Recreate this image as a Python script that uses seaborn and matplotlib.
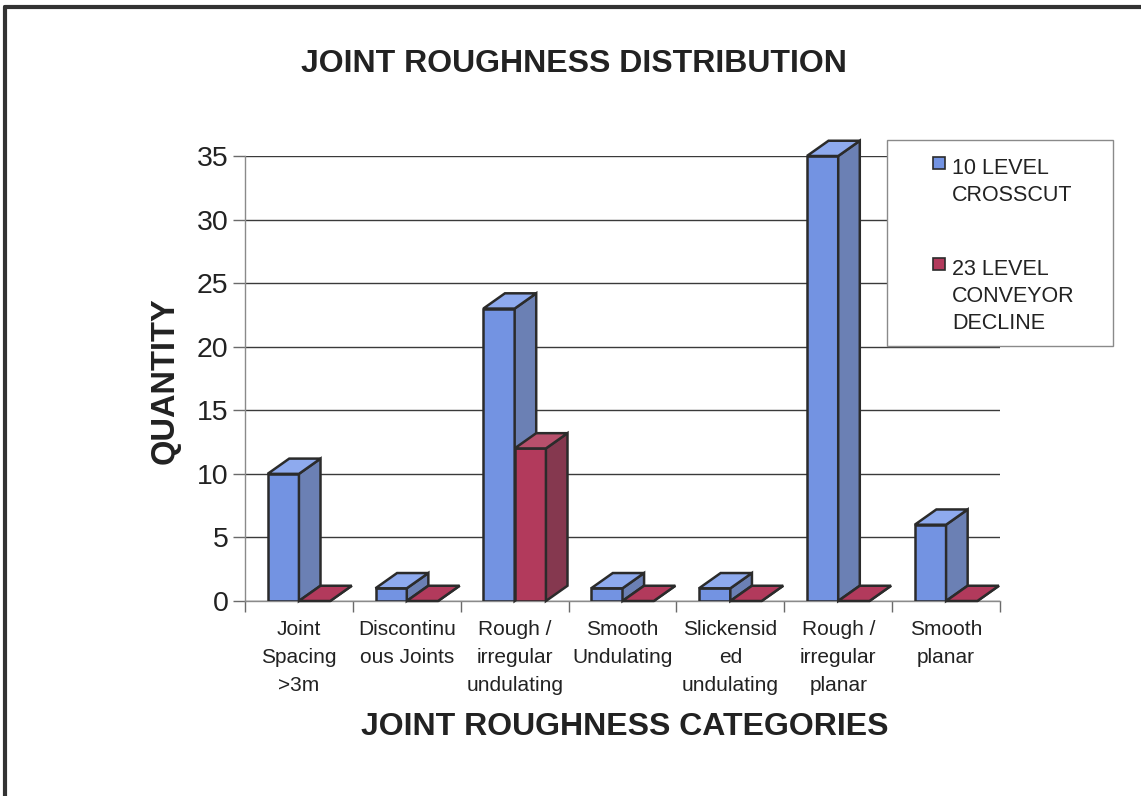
import numpy as np
import pandas as pd
import matplotlib
matplotlib.use("Agg")
import matplotlib.pyplot as plt
import seaborn as sns
from matplotlib.patches import Polygon, Rectangle
from matplotlib.lines import Line2D

# ---- data ----
categories = [
    "Joint\nSpacing\n>3m",
    "Discontinu\nous Joints",
    "Rough /\nirregular\nundulating",
    "Smooth\nUndulating",
    "Slickensid\ned\nundulating",
    "Rough /\nirregular\nplanar",
    "Smooth\nplanar",
]
crosscut_10 = [10, 1, 23, 1, 1, 35, 6]
conveyor_23 = [0, 0, 12, 0, 0, 0, 0]
series_names = ["10 LEVEL\nCROSSCUT", "23 LEVEL\nCONVEYOR\nDECLINE"]
y_ticks = [0, 5, 10, 15, 20, 25, 30, 35]

df = pd.DataFrame({
    "category": categories * 2,
    "series": [series_names[0]] * len(categories) + [series_names[1]] * len(categories),
    "quantity": crosscut_10 + conveyor_23,
})

# face colours: front, side, top
face_colors = {
    series_names[0]: ("#7393e2", "#6b80b4", "#8eaaee"),
    series_names[1]: ("#b23a5c", "#85384f", "#b8506c"),
}
edge_col = "#2b2b2b"

sns.set_theme(style="white")
plt.rcParams["font.family"] = ["Liberation Sans", "DejaVu Sans"]

fig = plt.figure(figsize=(11.41, 7.96), dpi=100)
fig.patch.set_facecolor("white")
W, H = 1141, 796
ax = fig.add_axes([245 / W, 1 - 601 / H, (1000 - 245) / W, (601 - 156) / H])

sns.barplot(
    data=df, x="category", y="quantity", hue="series",
    palette=[face_colors[s][0] for s in series_names],
    width=0.58, saturation=1, ax=ax, legend=False, zorder=3,
)

ax.set_ylim(0, 35)
ax.set_xlim(-0.5, len(categories) - 0.5)

# depth of the pseudo-3D boxes, in data units
dx, dy = 0.2, 1.2

bars = [p for p in ax.patches if isinstance(p, Rectangle)]
n = len(categories)
for i, bar in enumerate(bars[: 2 * n]):
    s = series_names[i // n]
    front, side, top = face_colors[s]
    x0 = bar.get_x()
    w = bar.get_width()
    h = bar.get_height()
    bar.set_edgecolor(edge_col)
    bar.set_linewidth(1.8)
    z = 3 + (i // n) * 0.5
    bar.set_zorder(z)
    side_poly = Polygon(
        [(x0 + w, 0), (x0 + w + dx, dy), (x0 + w + dx, h + dy), (x0 + w, h)],
        closed=True, facecolor=side, edgecolor=edge_col, linewidth=1.8,
        zorder=z + 0.1, clip_on=False,
    )
    top_poly = Polygon(
        [(x0, h), (x0 + dx, h + dy), (x0 + w + dx, h + dy), (x0 + w, h)],
        closed=True, facecolor=top if h > 0 else front, edgecolor=edge_col,
        linewidth=1.8, zorder=z + 0.2, clip_on=False,
    )
    ax.add_patch(side_poly)
    ax.add_patch(top_poly)

# gridlines and axes styling
ax.set_yticks(y_ticks)
ax.yaxis.grid(True, color="#3a3a3a", linewidth=1.0, zorder=0)
ax.xaxis.grid(False)
ax.set_axisbelow(True)
for side_name in ["top", "right"]:
    ax.spines[side_name].set_visible(False)
ax.spines["left"].set_color("#8a8a8a")
ax.spines["bottom"].set_color("#8a8a8a")
ax.spines["left"].set_linewidth(1.0)
ax.spines["bottom"].set_linewidth(1.0)

ax.tick_params(axis="y", which="both", left=True, length=9, width=1.0,
               color="#6a6a6a", labelsize=20.5, labelcolor="#222222", pad=3)
ax.set_yticklabels([str(t) for t in y_ticks])

# category tick labels at centres, tick marks at category boundaries
ax.set_xticks(range(n))
ax.set_xticklabels(categories, fontsize=15, color="#222222", linespacing=1.58,
                   va="top")
ax.tick_params(axis="x", which="major", bottom=False, pad=8)
ax.set_xticks(np.arange(-0.5, n, 1.0), minor=True)
ax.tick_params(axis="x", which="minor", bottom=True, length=8, width=1.0,
               color="#6a6a6a")

ax.set_xlabel("JOINT ROUGHNESS CATEGORIES", fontsize=23, fontweight="bold",
              color="#222222")
ax.set_ylabel("QUANTITY", fontsize=23.5, fontweight="bold", color="#222222")
ax.xaxis.set_label_coords((625 - 245) / (1000 - 245), -(712 - 601) / (601 - 156))
ax.yaxis.set_label_coords(-(245 - 181) / (1000 - 245), 0.495)

fig.text(574 / W, 1 - 64 / H, "JOINT ROUGHNESS DISTRIBUTION", fontsize=23,
         fontweight="bold", color="#222222", ha="center", va="center")

# legend box
fig.patches.append(Rectangle((887 / W, 1 - 346 / H), (1113 - 887) / W, (346 - 140) / H,
                             transform=fig.transFigure, facecolor="white",
                             edgecolor="#8a8a8a", linewidth=1.0, zorder=10))
legend_rows = [(163, series_names[0]), (264, series_names[1])]
for (ytop, label), s in zip(legend_rows, series_names):
    fig.patches.append(Rectangle((933 / W, 1 - (ytop + 6) / H), 12 / W, 12 / H,
                                 transform=fig.transFigure,
                                 facecolor=face_colors[s][0], edgecolor=edge_col,
                                 linewidth=1.2, zorder=11))
    fig.text(952 / W, 1 - (ytop - 5) / H, label, fontsize=15.5, color="#222222",
             ha="left", va="top", linespacing=1.38, zorder=12)

# outer frame (left and top edges)
fig.add_artist(Line2D([5 / W, 5 / W], [0, 1 - 7 / H], transform=fig.transFigure,
                      color="#333333", linewidth=3))
fig.add_artist(Line2D([5 / W, 1], [1 - 7 / H, 1 - 7 / H], transform=fig.transFigure,
                      color="#333333", linewidth=3))

fig.savefig("out.png", dpi=100, facecolor="white")
